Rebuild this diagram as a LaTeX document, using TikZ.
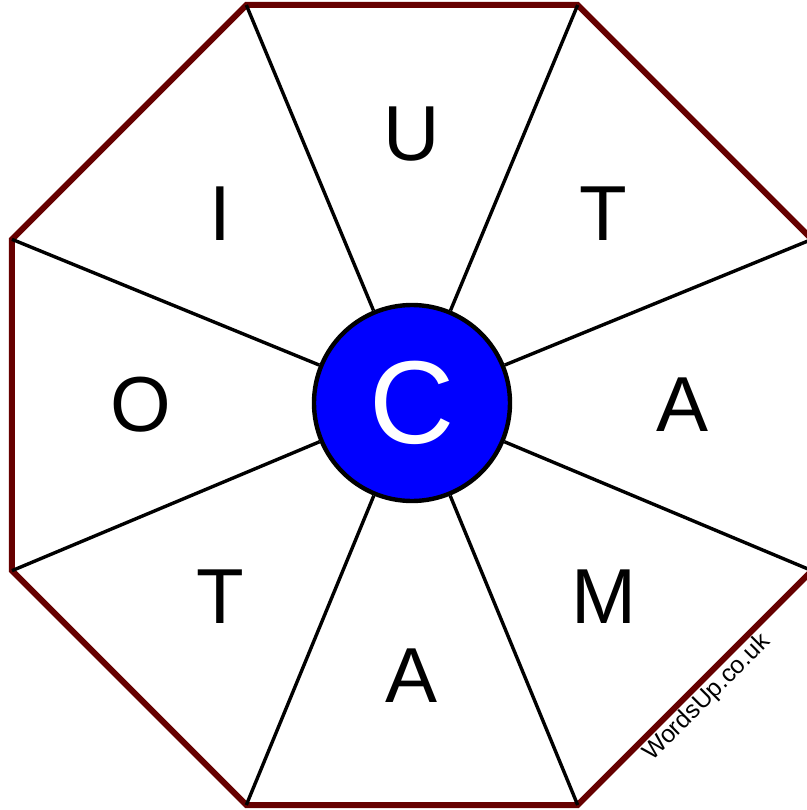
\documentclass[tikz,border=0pt]{standalone}
\usepackage{fontspec}
\setmainfont{Liberation Sans}
\definecolor{rim}{RGB}{102,0,0}
\definecolor{hubblue}{RGB}{0,0,255}
\begin{document}
\begin{tikzpicture}[x=0.5pt, y=0.5pt,
  letter/.style={font=\fontsize{39}{39}\selectfont, inner sep=0pt},
  spoke/.style={line width=1.7pt}]
\def\ro{433}
\def\rl{271}
\useasboundingbox (-412,-405) rectangle (395,405);
\clip (-412,-405) rectangle (395,405);
\foreach \i in {1,...,8}
  \coordinate (V\i) at ({22.5+45*(\i-1)}:\ro);
\draw[rim, line width=3pt, line join=miter]
  (V1) -- (V2) -- (V3) -- (V4) -- (V5) -- (V6) -- (V7) -- (V8) -- cycle;
\node[circle, draw, line width=2.2pt, fill=hubblue, inner sep=0pt,
  minimum size=98pt, text=white, font=\fontsize{59}{59}\selectfont] (hub) at (0,2) {C};
\foreach \i in {1,...,8}
  \draw[spoke] (V\i) -- (hub);
\node[letter] (l1) at (0:\rl)    {A};
\node[letter] (l2) at (45:\rl)   {T};
\node[letter] (l3) at (90:\rl)   {U};
\node[letter] (l4) at (135:\rl)  {I};
\node[letter] (l5) at (180:\rl)  {O};
\node[letter] (l6) at (225:\rl)  {T};
\node[letter] (l7) at (270:\rl)  {A};
\node[letter] (l8) at (315:\rl)  {M};
\node[rotate=45, font=\fontsize{12.3}{12.3}\selectfont] (mark) at (295,-293) {WordsUp.co.uk};
\end{tikzpicture}
\end{document}
